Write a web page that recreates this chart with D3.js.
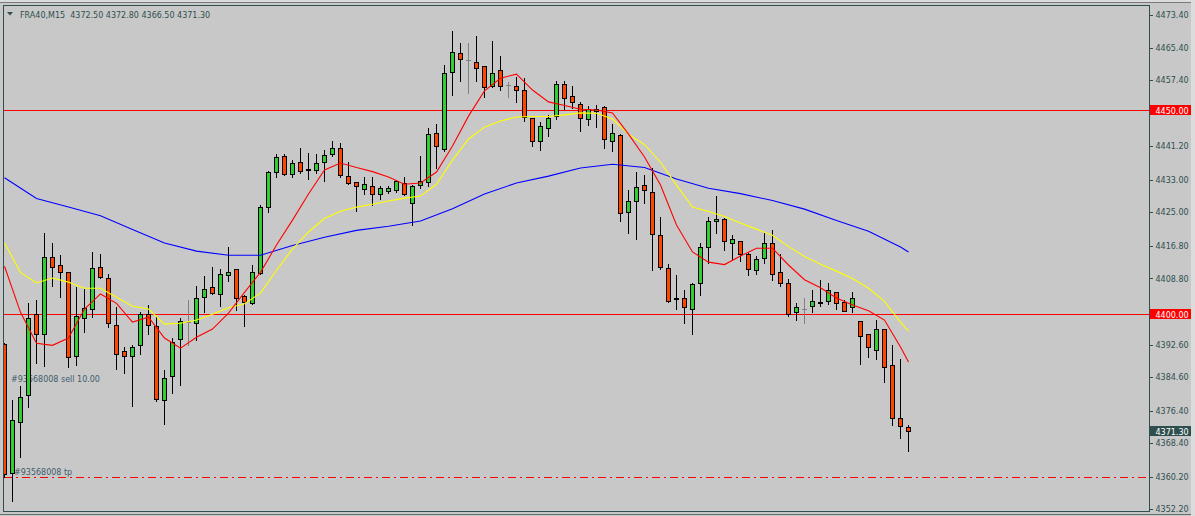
<!DOCTYPE html>
<html>
<head>
<meta charset="utf-8">
<script src="https://cdn.jsdelivr.net/npm/d3@7"></script>
<style>
  html, body { margin: 0; padding: 0; background: #c8c8c8; }
  svg { display: block; font-family: "DejaVu Sans", sans-serif; }
</style>
</head>
<body>
<svg width="1195" height="516"></svg>
<script>
const width = 1195;
const height = 516;

// FRA40 M15 bars
const opens = [
  4392.8, 4361.2, 4373.6, 4380.3, 4400.2, 4395.1, 4414.0, 4412.0, 4410.3, 4389.9,
  4399.2, 4401.2, 4411.5, 4408.8, 4397.5, 4390.9, 4389.7, 4392.4, 4400.2, 4397.1,
  4378.9, 4384.8, 4393.9, 4398.2, 4398.0, 4404.3, 4406.6, 4404.9, 4409.7, 4411.0,
  4404.5, 4402.8, 4410.2, 4426.4, 4435.0, 4438.8, 4434.3, 4437.3, 4435.5, 4435.3,
  4437.3, 4439.2, 4440.9, 4433.9, 4432.4, 4430.8, 4431.4, 4429.4, 4430.3, 4430.4,
  4432.1, 4427.2, 4431.6, 4432.4, 4444.4, 4440.5, 4459.5, 4464.1, 4462.3, 4461.9,
  4460.8, 4455.9, 4459.8, 4456.2, 4456.0, 4454.9, 4448.1, 4442.5, 4445.6, 4448.6,
  4456.4, 4453.5, 4451.6, 4447.9, 4449.8, 4450.8, 4442.4, 4443.9, 4425.0, 4427.7,
  4431.6, 4429.9, 4419.4, 4411.3, 4403.8, 4403.9, 4401.4, 4407.7, 4416.4, 4422.8,
  4423.5, 4417.4, 4417.9, 4414.9, 4410.8, 4413.7, 4417.4, 4410.3, 4407.6, 4400.5,
  4401.2, 4402.1, 4402.8, 4403.2, 4405.4, 4403.0, 4401.7, 4398.3, 4395.1, 4391.3,
  4396.4, 4387.5, 4374.5, 4372.5
];
const highs = [
  4393.0, 4378.9, 4382.4, 4402.7, 4403.5, 4420.0, 4417.5, 4414.5, 4410.5, 4406.6,
  4406.2, 4415.3, 4414.9, 4410.0, 4401.8, 4392.0, 4392.4, 4400.6, 4402.3, 4399.4,
  4386.3, 4394.1, 4399.2, 4403.5, 4406.9, 4409.4, 4411.7, 4411.0, 4416.4, 4411.2,
  4404.7, 4412.1, 4426.8, 4435.1, 4439.3, 4439.3, 4437.8, 4440.9, 4439.5, 4439.2,
  4440.3, 4442.5, 4441.9, 4437.3, 4432.5, 4433.7, 4433.7, 4431.5, 4431.4, 4432.9,
  4433.6, 4431.6, 4438.8, 4445.6, 4446.7, 4461.1, 4469.5, 4466.5, 4466.5, 4468.3,
  4461.0, 4467.0, 4463.3, 4457.0, 4458.1, 4457.9, 4448.2, 4447.2, 4448.9, 4457.2,
  4457.2, 4456.0, 4452.1, 4451.1, 4451.3, 4451.0, 4446.7, 4444.1, 4430.5, 4434.8,
  4434.1, 4435.8, 4423.8, 4412.3, 4409.6, 4405.9, 4407.7, 4417.4, 4423.8, 4429.0,
  4423.7, 4419.4, 4418.0, 4415.1, 4414.3, 4420.0, 4420.8, 4414.9, 4408.6, 4402.7,
  4403.9, 4405.9, 4408.4, 4407.6, 4405.5, 4403.5, 4405.4, 4398.4, 4395.2, 4398.6,
  4396.5, 4392.4, 4389.0, 4372.8
];
const lows = [
  4360.0, 4354.2, 4365.0, 4377.3, 4388.0, 4387.3, 4406.9, 4404.3, 4387.1, 4387.5,
  4395.7, 4399.4, 4409.0, 4396.8, 4386.6, 4385.6, 4377.5, 4390.2, 4395.3, 4378.8,
  4373.2, 4380.8, 4382.6, 4392.4, 4393.8, 4400.6, 4405.1, 4402.0, 4408.2, 4401.0,
  4397.1, 4402.6, 4409.9, 4425.1, 4433.7, 4434.1, 4433.7, 4434.7, 4433.3, 4434.6,
  4432.7, 4438.8, 4433.7, 4432.0, 4425.4, 4429.4, 4426.7, 4428.3, 4429.7, 4430.0,
  4429.3, 4421.9, 4430.9, 4431.5, 4435.9, 4440.1, 4453.8, 4457.3, 4454.3, 4457.3,
  4453.4, 4455.8, 4455.0, 4453.4, 4452.1, 4447.5, 4441.3, 4440.4, 4443.7, 4447.8,
  4450.3, 4450.7, 4445.0, 4446.4, 4446.0, 4440.9, 4440.1, 4422.9, 4420.0, 4418.5,
  4427.4, 4410.8, 4411.0, 4403.1, 4401.2, 4397.8, 4395.3, 4404.8, 4412.6, 4420.0,
  4415.9, 4413.5, 4413.1, 4409.7, 4410.0, 4412.6, 4408.4, 4407.0, 4399.6, 4398.6,
  4397.9, 4400.6, 4402.0, 4402.5, 4401.3, 4400.8, 4400.5, 4387.8, 4389.6, 4389.1,
  4383.4, 4372.9, 4369.7, 4366.5
];
const closes = [
  4360.8, 4374.0, 4379.8, 4399.0, 4395.3, 4414.1, 4411.7, 4410.5, 4389.6, 4399.6,
  4401.5, 4411.3, 4409.1, 4397.8, 4390.2, 4389.9, 4391.9, 4400.0, 4397.3, 4379.3,
  4384.5, 4393.3, 4398.4, 4398.2, 4403.9, 4406.1, 4405.3, 4410.0, 4410.3, 4403.9,
  4403.1, 4410.4, 4426.2, 4434.8, 4438.5, 4434.5, 4437.0, 4435.2, 4435.7, 4437.0,
  4439.0, 4440.9, 4434.1, 4432.1, 4431.4, 4431.9, 4429.4, 4430.9, 4430.9, 4432.6,
  4429.4, 4431.4, 4432.8, 4444.1, 4441.3, 4459.3, 4464.3, 4462.5, 4462.3, 4460.3,
  4455.7, 4459.2, 4456.0, 4456.2, 4454.9, 4448.3, 4442.5, 4446.1, 4448.1, 4456.6,
  4453.0, 4452.0, 4448.1, 4450.3, 4450.4, 4442.9, 4444.4, 4424.8, 4427.9, 4431.3,
  4430.4, 4419.6, 4411.7, 4403.3, 4404.0, 4401.7, 4407.4, 4416.4, 4423.0, 4423.4,
  4417.9, 4418.4, 4414.7, 4411.0, 4413.5, 4417.4, 4409.8, 4407.8, 4400.1, 4401.7,
  4401.2, 4403.2, 4403.0, 4405.9, 4402.7, 4400.9, 4403.9, 4394.7, 4391.9, 4396.5,
  4387.0, 4374.6, 4372.6, 4371.3
];

// moving averages, read at every 2nd (fast, mid) and every 4th (slow) bar
const maFast = [
  4411.8, 4400.5, 4392.9, 4392.4, 4394.2, 4401.3, 4405.0, 4402.7, 4398.1, 4399.3,
  4394.2, 4391.7, 4394.4, 4396.4, 4400.3, 4405.4, 4410.3, 4417.0, 4423.1, 4429.5,
  4435.4, 4437.1, 4436.0, 4435.0, 4433.7, 4431.9, 4432.2, 4434.9, 4441.3, 4448.6,
  4454.8, 4457.9, 4458.9, 4455.0, 4452.1, 4451.2, 4450.3, 4450.1, 4449.4, 4444.2,
  4438.6, 4431.7, 4421.9, 4415.3, 4412.8, 4412.2, 4414.3, 4416.2, 4416.2, 4412.1,
  4408.5, 4406.5, 4404.0, 4402.3, 4400.9, 4398.6, 4392.0, 4388.3
];
const maMid = [
  4417.5, 4410.3, 4407.7, 4408.9, 4407.9, 4406.4, 4406.4, 4404.2, 4402.0, 4401.3,
  4397.6, 4397.8, 4398.6, 4400.0, 4401.6, 4402.6, 4405.2, 4410.8, 4416.0, 4420.2,
  4423.5, 4425.3, 4426.3, 4427.0, 4427.8, 4428.5, 4429.0, 4431.9, 4437.8, 4443.0,
  4445.9, 4447.4, 4448.4, 4448.5, 4448.5, 4448.9, 4449.4, 4449.3, 4447.9, 4444.2,
  4441.6, 4437.3, 4431.7, 4426.3, 4425.2, 4424.0, 4422.4, 4420.9, 4419.4, 4416.6,
  4414.2, 4412.3, 4410.6, 4408.8, 4406.4, 4403.2, 4398.1, 4395.9
];
const maSlow = [
  4433.5, 4428.4, 4426.3, 4424.2, 4420.8, 4417.5, 4415.5, 4414.5, 4414.5, 4416.9,
  4418.9, 4420.6, 4421.6, 4422.9, 4425.9, 4429.5, 4432.2, 4433.9, 4435.9, 4436.8,
  4436.0, 4433.2, 4430.9, 4429.6, 4427.9, 4425.8, 4423.0, 4420.4, 4416.5, 4415.3
];

const levels = [4450.00, 4400.00];
const tpLevel = 4360.1;
const priceTicks = [
  4473.40, 4465.40, 4457.40, 4449.20, 4441.20, 4433.00, 4425.00, 4416.80,
  4408.80, 4400.60, 4392.60, 4384.60, 4376.40, 4368.40, 4360.20, 4352.20
];
const symbol = "FRA40";
const period = "M15";
const orderText = "#93568008 sell 10.00";
const tpText = "#93568008 tp";

const n = closes.length;
const fastIdx = d3.range(0, n - 1, 2).concat([n - 1]);
const slowIdx = d3.range(0, n - 1, 4).concat([n - 1]);

const plotLeft = 3.5, plotTop = 5.5, plotRight = 1149.5, plotBottom = 511.5;
const fg = "#2f4f4f";
const bull = "#32cd32", bear = "#ff4500", dojiCol = "#808080";

const svg = d3.select("svg");

const x = d3.scaleLinear().domain([0, n - 1]).range([4.5, 4.5 + 8 * (n - 1)]);
const y = d3.scaleLinear().domain([4352.2, 4473.4]).range([509.3, 15]);
const fmt = d3.format(".2f");

// window background and edges
svg.append("rect").attr("width", width).attr("height", height).attr("fill", "#c8c8c8");
svg.append("rect").attr("x", 0).attr("y", 0).attr("width", width).attr("height", 2).attr("fill", "#dcdcdc");
svg.append("line").attr("x1", 0).attr("x2", width).attr("y1", 2.5).attr("y2", 2.5)
  .attr("stroke", "#7a7a7a");
svg.append("rect").attr("x", 1191).attr("y", 0).attr("width", 4).attr("height", height).attr("fill", "#dcdcdc");
svg.append("line").attr("x1", 0).attr("x2", 1191).attr("y1", 514.5).attr("y2", 514.5)
  .attr("stroke", "#5f7070");

svg.append("defs").append("clipPath").attr("id", "plot")
  .append("rect").attr("x", 4).attr("y", 6).attr("width", plotRight - 4).attr("height", plotBottom - 6);

const plot = svg.append("g").attr("clip-path", "url(#plot)");

// horizontal levels
plot.selectAll("line.level").data(levels).join("line")
  .attr("class", "level")
  .attr("x1", plotLeft).attr("x2", plotRight)
  .attr("y1", d => Math.round(y(d)) + 0.5).attr("y2", d => Math.round(y(d)) + 0.5)
  .attr("stroke", "#ff0000").attr("shape-rendering", "crispEdges");

// take-profit line, dash-dot: 8px dash, 4px gap, 2px dot, 4px gap
const tpY = Math.round(y(tpLevel));
const dashStarts = d3.range(4, plotRight, 18);
const tpG = plot.append("g").attr("fill", "#ff0000");
tpG.selectAll("rect.dash").data(dashStarts).join("rect")
  .attr("class", "dash")
  .attr("x", d => d).attr("y", tpY).attr("width", 8).attr("height", 1);
tpG.selectAll("rect.dot").data(dashStarts).join("rect")
  .attr("class", "dot")
  .attr("x", d => d + 12).attr("y", tpY).attr("width", 2).attr("height", 1);

// trade labels
plot.append("text").attr("x", 11).attr("y", 381.5)
  .attr("font-size", 8).attr("fill", "#3e5c6c").text(orderText);
plot.append("text").attr("x", 14).attr("y", 474.5)
  .attr("font-size", 8).attr("fill", "#3e5c6c").text(tpText);

// candles
const bars = d3.range(n).map(i => ({ i, o: opens[i], h: highs[i], l: lows[i], c: closes[i] }));

const candle = plot.selectAll("g.bar").data(bars).join("g").attr("class", "bar")
  .attr("shape-rendering", "crispEdges");

candle.append("line")
  .attr("x1", d => x(d.i)).attr("x2", d => x(d.i))
  .attr("y1", d => Math.round(y(d.h))).attr("y2", d => Math.round(y(d.l)) + 1)
  .attr("stroke", d => d.o === d.c ? dojiCol : "#000");

candle.filter(d => d.o === d.c).append("line")
  .attr("x1", d => x(d.i) - 2.5).attr("x2", d => x(d.i) + 2.5)
  .attr("y1", d => Math.round(y(d.c)) + 0.5).attr("y2", d => Math.round(y(d.c)) + 0.5)
  .attr("stroke", dojiCol);

candle.filter(d => d.o !== d.c).append("rect")
  .attr("x", d => x(d.i) - 2)
  .attr("y", d => Math.round(y(Math.max(d.o, d.c))) + 0.5)
  .attr("width", 4)
  .attr("height", d => Math.round(y(Math.min(d.o, d.c))) - Math.round(y(Math.max(d.o, d.c))))
  .attr("fill", d => d.c > d.o ? bull : bear)
  .attr("stroke", "#000");

// moving averages
const line = d3.line().x(d => x(d[0])).y(d => y(d[1]));
const maSeries = [
  { idx: slowIdx, vals: maSlow, color: "#0000ff" },
  { idx: fastIdx, vals: maMid, color: "#ffff00" },
  { idx: fastIdx, vals: maFast, color: "#ff0000" }
];
plot.selectAll("path.ma").data(maSeries).join("path")
  .attr("class", "ma")
  .attr("d", s => line(d3.zip(s.idx, s.vals)))
  .attr("fill", "none")
  .attr("stroke", s => s.color)
  .attr("stroke-width", 1.1);

// frame
svg.append("rect")
  .attr("x", plotLeft).attr("y", plotTop)
  .attr("width", plotRight - plotLeft).attr("height", plotBottom - plotTop)
  .attr("fill", "none").attr("stroke", fg).attr("shape-rendering", "crispEdges");

// price axis; labels that sit under a price tag are covered in the original, so only the tick shows
const covered = v => levels.some(l => Math.abs(y(l) - y(v)) < 6);
const axis = svg.append("g")
  .attr("transform", `translate(${plotRight},0)`)
  .call(d3.axisRight(y).tickValues(priceTicks)
    .tickFormat(v => covered(v) ? "" : fmt(v))
    .tickSize(3).tickPadding(3));
axis.select(".domain").remove();
axis.selectAll(".tick line").attr("stroke", fg).attr("shape-rendering", "crispEdges");
axis.selectAll(".tick text")
  .attr("fill", fg)
  .attr("font-size", 8)
  .attr("font-family", "DejaVu Sans, sans-serif");

// price tags on the axis
const tags = levels.map(v => ({ v, bg: "#ff0000" }))
  .concat([{ v: closes[n - 1], bg: fg }]);
const tag = svg.selectAll("g.tag").data(tags).join("g").attr("class", "tag");
tag.append("rect")
  .attr("x", 1150).attr("y", d => Math.round(y(d.v)) - 5)
  .attr("width", 41).attr("height", 10)
  .attr("fill", d => d.bg);
tag.append("text")
  .attr("x", 1155.5).attr("y", d => Math.round(y(d.v)) + 3.5)
  .attr("font-size", 8).attr("fill", "#fff")
  .text(d => fmt(d.v));

// header
svg.append("path").attr("d", "M7,12L13,12L10,15.5Z").attr("fill", fg);
const last = n - 1;
svg.append("text")
  .attr("x", 20).attr("y", 17.5)
  .attr("font-size", 8).attr("fill", fg)
  .attr("xml:space", "preserve")
  .style("white-space", "pre")
  .text(`${symbol},${period}  ${fmt(opens[last])} ${fmt(highs[last])} ${fmt(lows[last])} ${fmt(closes[last])}`);
</script>
</body>
</html>
